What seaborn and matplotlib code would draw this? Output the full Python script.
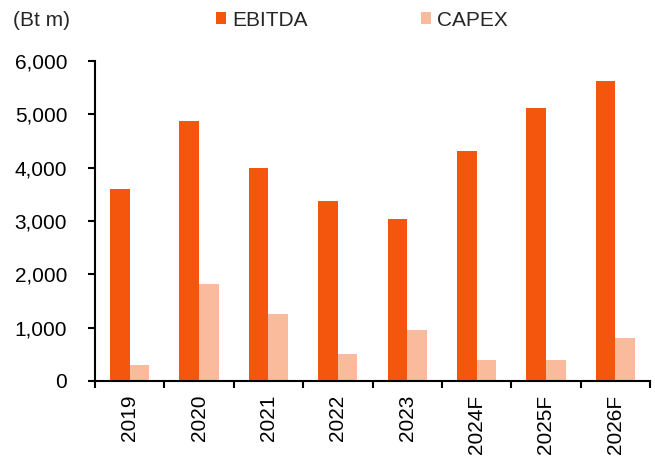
import matplotlib
matplotlib.use('Agg')
import matplotlib.pyplot as plt
from matplotlib.ticker import FuncFormatter, FixedLocator
import seaborn as sns
import pandas as pd
import numpy as np

# chart data
years = ['2019', '2020', '2021', '2022', '2023', '2024F', '2025F', '2026F']
ebitda = [3600, 4880, 3990, 3370, 3030, 4320, 5120, 5630]
capex = [300, 1820, 1250, 500, 960, 400, 400, 800]

sns.set_style("white")
plt.rcParams['font.family'] = ['Liberation Sans', 'DejaVu Sans']
plt.rcParams.update({
    'xtick.bottom': True, 'ytick.left': True,
    'xtick.color': 'black', 'ytick.color': 'black',
    'xtick.direction': 'out', 'ytick.direction': 'out',
})

df = pd.DataFrame({
    'year': years * 2,
    'value': ebitda + capex,
    'series': ['EBITDA'] * len(years) + ['CAPEX'] * len(years),
})

fig = plt.figure(figsize=(6.55, 4.59), dpi=100)
ax = fig.add_axes([95 / 655, 1 - 381 / 459, 555 / 655, 320 / 459])

sns.barplot(data=df, x='year', y='value', hue='series',
            palette={'EBITDA': '#F4560E', 'CAPEX': '#FABB9D'},
            width=0.565, gap=0, saturation=1, linewidth=0, ax=ax)

ax.set_ylim(0, 6000)
ax.set_xlim(-0.5, len(years) - 0.5)
ax.set_yticks(np.arange(0, 6001, 1000))
ax.yaxis.set_major_formatter(FuncFormatter(lambda v, p: f'{int(v):,}'))
ax.set_xlabel('')
ax.set_ylabel('')

# tick marks between categories, labels at centres
ax.xaxis.set_minor_locator(FixedLocator(np.arange(-0.5, len(years), 1.0)))
ax.tick_params(axis='x', which='major', length=0, labelsize=15, rotation=90, pad=10)
ax.tick_params(axis='x', which='minor', bottom=True, length=5, width=1.5)
ax.tick_params(axis='y', which='major', left=True, length=5, width=1.5,
               labelsize=15, pad=15)

for s in ['top', 'right']:
    ax.spines[s].set_visible(False)
for s in ['left', 'bottom']:
    ax.spines[s].set_color('black')
    ax.spines[s].set_linewidth(1.5)

handles, labels = ax.get_legend_handles_labels()
ax.legend().remove()
fig.legend(handles, labels, loc='center left', bbox_to_anchor=(216 / 655, 1 - 20 / 459),
           ncol=2, frameon=False, fontsize=15, borderpad=0, borderaxespad=0,
           handlelength=0.5, handleheight=0.5, handletextpad=0.3, columnspacing=5.4)

fig.text(13 / 655, 1 - 20 / 459, '(Bt m)', fontsize=15, ha='left', va='center')

plt.savefig('out.png', dpi=100)
